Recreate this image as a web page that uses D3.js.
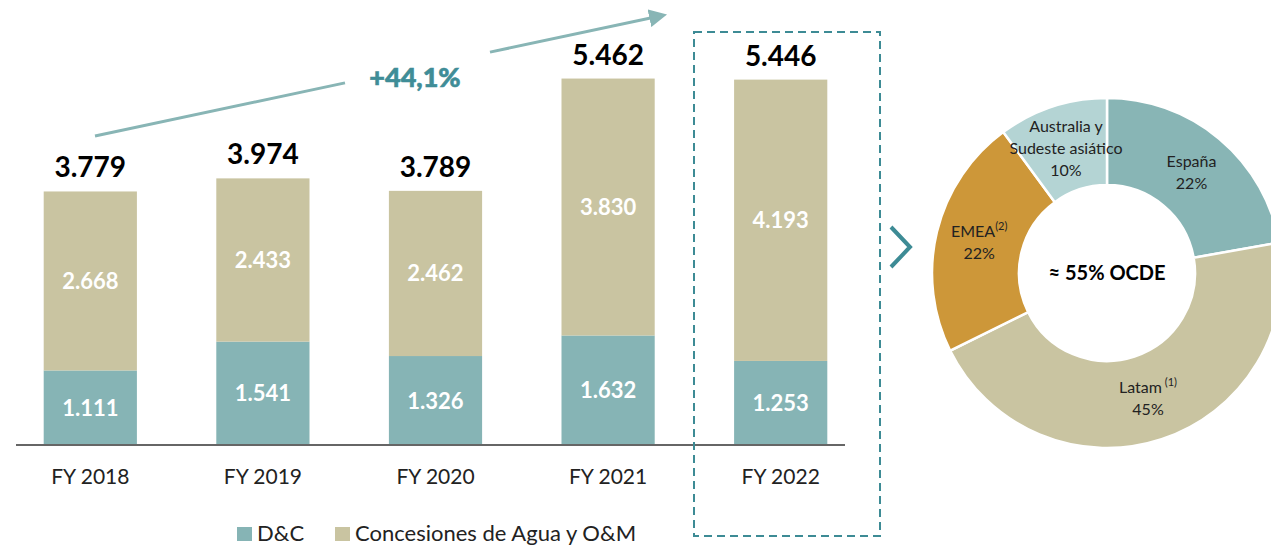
<!DOCTYPE html>
<html>
<head>
<meta charset="utf-8">
<script src="https://cdn.jsdelivr.net/npm/d3@7"></script>
<style>
  body { margin: 0; background: #fff; }
  text { font-family: Lato, "Open Sans", sans-serif; }
  .bold { font-weight: bold; }
</style>
</head>
<body>
<script>
// datos
var years = ["FY 2018", "FY 2019", "FY 2020", "FY 2021", "FY 2022"];
var dc = [1111, 1541, 1326, 1632, 1253];
var concesiones = [2668, 2433, 2462, 3830, 4193];
var totals = [3779, 3974, 3789, 5462, 5446];
var seriesNames = ["D&C", "Concesiones de Agua y O&M"];
var growthLabel = "+44,1%";

var regions = ["España", "Latam", "EMEA", "Australia y Sudeste asiático"];
var regionShare = [22, 45, 22, 10];
var centerLabel = "≈ 55% OCDE";

var colDC = "#86b4b5", colConc = "#c9c4a1", teal = "#3d8b95";
var pieColors = ["#88b5b5", "#c9c4a1", "#cd9739", "#b4d4d4"];

var width = 1271, height = 545;
var svg = d3.select("body").append("svg").attr("width", width).attr("height", height);

var es = d3.formatLocale({decimal: ",", thousands: ".", grouping: [3], currency: ["", "€"]});
var fmt = es.format(",d");

// escalas
var x = d3.scaleBand().domain(years).range([4, 867]).paddingInner(0.46).paddingOuter(0.23);
var y = d3.scaleLinear().domain([0, 5500]).range([445, 76]);

var rows = years.map(function(d, i) { return {year: d, dc: dc[i], conc: concesiones[i], total: totals[i]}; });

// barras D&C
svg.selectAll(".dc").data(rows).enter().append("rect")
    .attr("x", function(d) { return x(d.year); })
    .attr("width", x.bandwidth())
    .attr("y", function(d) { return y(d.dc); })
    .attr("height", function(d) { return y(0) - y(d.dc); })
    .attr("fill", colDC);

// barras concesiones
svg.selectAll(".conc").data(rows).enter().append("rect")
    .attr("x", function(d) { return x(d.year); })
    .attr("width", x.bandwidth())
    .attr("y", function(d) { return y(d.dc + d.conc); })
    .attr("height", function(d) { return y(d.dc) - y(d.dc + d.conc); })
    .attr("fill", colConc);

// etiquetas dentro
svg.selectAll(".ldc").data(rows).enter().append("text")
    .attr("class", "bold")
    .attr("x", function(d) { return x(d.year) + x.bandwidth() / 2; })
    .attr("y", function(d) { return (y(0) + y(d.dc)) / 2 + 8; })
    .attr("text-anchor", "middle").attr("fill", "#fff").attr("font-size", 22)
    .text(function(d) { return fmt(d.dc); });

svg.selectAll(".lconc").data(rows).enter().append("text")
    .attr("class", "bold")
    .attr("x", function(d) { return x(d.year) + x.bandwidth() / 2; })
    .attr("y", function(d) { return (y(d.dc) + y(d.dc + d.conc)) / 2 + 8; })
    .attr("text-anchor", "middle").attr("fill", "#fff").attr("font-size", 22)
    .text(function(d) { return fmt(d.conc); });

// totales
svg.selectAll(".tot").data(rows).enter().append("text")
    .attr("class", "bold")
    .attr("x", function(d) { return x(d.year) + x.bandwidth() / 2; })
    .attr("y", function(d) { return y(d.total) - 14; })
    .attr("text-anchor", "middle").attr("fill", "#000").attr("font-size", 28)
    .text(function(d) { return fmt(d.total); });

// eje x
var xAxis = svg.append("g").attr("transform", "translate(0," + y(0) + ")")
    .call(d3.axisBottom(x).tickSize(0).tickPadding(24));
xAxis.select(".domain").attr("d", "M16,0H845").attr("stroke", "#666").attr("stroke-width", 2);
xAxis.selectAll("text").attr("font-size", 21).attr("fill", "#222")
    .style("font-family", "Lato, sans-serif");

// leyenda
var legend = svg.append("g").attr("transform", "translate(237,527)");
var legX = [0, 98];
seriesNames.forEach(function(n, i) {
    legend.append("rect").attr("x", legX[i]).attr("y", 0).attr("width", 15).attr("height", 14)
        .attr("fill", i == 0 ? colDC : colConc);
    legend.append("text").attr("x", legX[i] + 20).attr("y", 14).attr("font-size", 22).attr("fill", "#222").text(n);
});

// flecha de crecimiento
var defs = svg.append("defs");
defs.append("marker").attr("id", "head").attr("viewBox", "0 0 10 10").attr("refX", 6).attr("refY", 5)
    .attr("markerWidth", 6).attr("markerHeight", 6).attr("orient", "auto")
    .append("path").attr("d", "M0,0L10,5L0,10z").attr("fill", "#88b5b5");
var a0 = [95, 136], a1 = [660, 16];
var slope = (a1[1] - a0[1]) / (a1[0] - a0[0]);
svg.append("line").attr("x1", a0[0]).attr("y1", a0[1]).attr("x2", 345).attr("y2", a0[1] + slope * (345 - a0[0]))
    .attr("stroke", "#88b5b5").attr("stroke-width", 3);
svg.append("line").attr("x1", 490).attr("y1", a0[1] + slope * (490 - a0[0])).attr("x2", a1[0]).attr("y2", a1[1])
    .attr("stroke", "#88b5b5").attr("stroke-width", 3).attr("marker-end", "url(#head)");
svg.append("text").attr("x", 415).attr("y", 87).attr("text-anchor", "middle")
    .attr("font-size", 27).attr("font-weight", 900).attr("fill", "#3f8d97")
    .attr("stroke", "#3f8d97").attr("stroke-width", 0.6).text(growthLabel);

// recuadro punteado FY 2022
svg.append("rect").attr("x", 694).attr("y", 32).attr("width", 186).attr("height", 504)
    .attr("fill", "none").attr("stroke", teal).attr("stroke-width", 2).attr("stroke-dasharray", "8,5");

// chevron
svg.append("path").attr("d", "M891,227L910,247L891,267").attr("fill", "none")
    .attr("stroke", teal).attr("stroke-width", 4);

// donut
var cx = 1107, cy = 273, rOut = 175, rIn = 88;
var pie = d3.pie().sort(null).value(function(d) { return d.v; });
var arc = d3.arc().innerRadius(rIn).outerRadius(rOut);
var pdata = pie(regions.map(function(r, i) { return {name: r, v: regionShare[i]}; }));
var donut = svg.append("g").attr("transform", "translate(" + cx + "," + cy + ")");
donut.selectAll("path").data(pdata).enter().append("path")
    .attr("d", arc).attr("fill", function(d, i) { return pieColors[i]; })
    .attr("stroke", "#fff").attr("stroke-width", 2.5);

var labelLines = [["España"], ["Latam", "(1)"], ["EMEA", "(2)"], ["Australia y", "Sudeste asiático"]];
pdata.forEach(function(d, i) {
    var c = arc.centroid(d);
    var lines = [];
    if (i == 3) lines = [labelLines[i][0], labelLines[i][1]];
    else lines = [labelLines[i][0]];
    lines.push(regionShare[i] + "%");
    var n = lines.length;
    var t = donut.append("text").attr("text-anchor", "middle").attr("font-size", 16).attr("fill", "#222");
    lines.forEach(function(l, j) {
        var ty = c[1] + (j - (n - 1) / 2) * 22 + 6;
        var tsp = t.append("tspan").attr("x", c[0]).attr("y", ty).text(l);
        if (j == 0 && (i == 1 || i == 2)) {
            tsp.append("tspan").attr("font-size", 11).attr("dy", -7).text((i == 1 ? " " : "") + labelLines[i][1]);
        }
    });
});

donut.append("text").attr("text-anchor", "middle").attr("y", 7).attr("font-size", 20)
    .attr("font-weight", "bold").attr("fill", "#000").text(centerLabel);
</script>
</body>
</html>
